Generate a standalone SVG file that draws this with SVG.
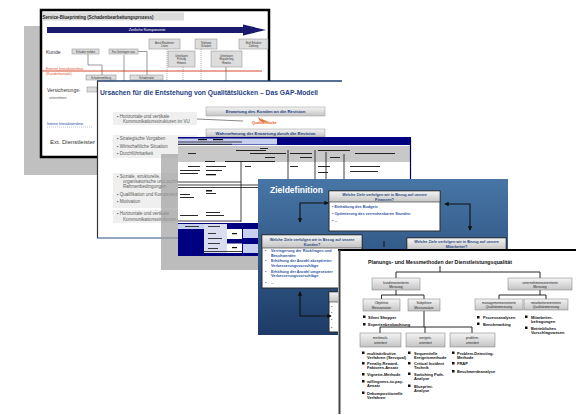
<svg xmlns="http://www.w3.org/2000/svg" width="576" height="415" viewBox="0 0 576 415">
<defs>
<linearGradient id="blue" x1="0" y1="0" x2="0" y2="1"><stop offset="0" stop-color="#4776a6"/><stop offset="1" stop-color="#1d3b66"/></linearGradient>
<linearGradient id="hdr" x1="0" y1="0" x2="0" y2="1"><stop offset="0" stop-color="#f4f4f4"/><stop offset="1" stop-color="#c4c4c4"/></linearGradient>
<marker id="ah" viewBox="0 0 6 6" refX="5" refY="3" markerWidth="4" markerHeight="4" orient="auto-start-reverse"><path d="M0,0 L6,3 L0,6 z" fill="#111"/></marker>
<marker id="sa" viewBox="0 0 6 6" refX="5" refY="3" markerWidth="5" markerHeight="5" orient="auto-start-reverse"><path d="M0,0 L6,3 L0,6 z" fill="#444"/></marker>
</defs>
<style>
text{font-family:"Liberation Sans",Arial,Helvetica,sans-serif}
.sb{fill:#ddd;stroke:#888;stroke-width:.5}
.st{font-size:2.6px;fill:#333;text-anchor:middle}
.cn{fill:none;stroke:#555;stroke-width:.6}
.dt{fill:none;stroke:#777;stroke-width:.6;stroke-dasharray:1 1}
.gb{fill:url(#hdr);stroke:#999;stroke-width:.5}
.gt{font-size:4.3px;font-weight:bold;fill:#1f3f7f;text-anchor:middle}
.bx{fill:#efefef}
.bt{font-size:4.5px;fill:#5a5a5a}
.tm{fill:#111}
.tl{stroke:#111;stroke-width:.8}
.zb{fill:#fff;stroke:#2a2a2a;stroke-width:1}
.zh{fill:url(#hdr);stroke:#2a2a2a;stroke-width:.6}
.zt{font-size:3.8px;font-weight:bold;fill:#2a4a80;text-anchor:middle}
.zl{font-size:3.8px;font-weight:bold;fill:#2f54a0}
.za{fill:none;stroke:#111;stroke-width:1.1;marker-start:url(#ah);marker-end:url(#ah)}
.pb{fill:url(#hdr);stroke:#777;stroke-width:.5}
.pt{font-size:3.3px;fill:#222;text-anchor:middle}
.pl{font-size:4px;font-weight:bold;fill:#111}
.tr{fill:none;stroke:#111;stroke-width:.9}
</style>

<!-- Slide 1: Service Blueprint -->
<g id="slide-blueprint">
<rect x="24" y="26" width="230" height="149" fill="#c0c0c0"/>
<rect x="41" y="10" width="228" height="147" fill="#fff" stroke="#000" stroke-width="2.5"/>
<rect x="42.5" y="12.5" width="141.5" height="8" fill="#dcdcdc"/>
<text x="42.5" y="18.5" font-size="5.5" font-weight="bold" fill="#222" textLength="111" lengthAdjust="spacingAndGlyphs">Service-Blueprinting (Schadenbearbeitungsprozess)</text>
<polygon points="47,27 243,27 243,24.5 266,30 243,35.5 243,33 47,33" fill="#1a1a6e"/>
<text x="147" y="31.4" font-size="3.8" fill="#fff" text-anchor="middle">Zeitliche Komponente</text>
<text x="46" y="53.5" font-size="5" fill="#333">Kunde</text>
<rect class="sb" x="72" y="49" width="27" height="5"/><text class="st" x="85.5" y="52.5">Schaden melden</text>
<rect class="sb" x="109" y="49" width="29" height="5"/><text class="st" x="123.5" y="52.5">Fax Unterlagen usw.</text>
<rect class="sb" x="149" y="39" width="31" height="10"/><text class="st" x="164.5" y="43.5">Anruf Mitarbeiter</text><text class="st" x="164.5" y="47">Listen</text>
<rect class="sb" x="195" y="39" width="22" height="10"/><text class="st" x="206" y="43.5">Telefonat</text><text class="st" x="206" y="47">Schaden</text>
<rect class="sb" x="239" y="39" width="29" height="10"/><text class="st" x="253.5" y="43.5">Brief Erhalten</text><text class="st" x="253.5" y="47">Zahlung</text>
<rect class="sb" x="168" y="51" width="27" height="16"/><text class="st" x="181.5" y="56.5">Unterlagen</text><text class="st" x="181.5" y="60">Prüfung</text><text class="st" x="181.5" y="63.5">Hinweis</text>
<rect class="sb" x="211" y="51" width="31" height="16"/><text class="st" x="226.5" y="56.5">Unterlagen</text><text class="st" x="226.5" y="60">Regulierung</text><text class="st" x="226.5" y="63.5">Hinweis</text>
<line x1="42" y1="71" x2="262" y2="71" stroke="#d5492a" stroke-width="1"/>
<text x="46" y="69.5" font-size="3.5" fill="#e05535">Externe Interaktionslinie</text>
<text x="46" y="74.5" font-size="3.5" fill="#e05535">(Kundenkontakt)</text>
<rect class="sb" x="86" y="75" width="30" height="5"/><text class="st" x="101" y="78.5">Schadenmeldung</text>
<rect class="sb" x="130" y="75" width="33" height="5"/><text class="st" x="146.5" y="78.5">Schadenakte</text>
<text x="47" y="92" font-size="5" fill="#333">Versicherungs-</text>
<text x="49" y="99" font-size="3" fill="#555">unternehmen</text>
<rect class="sb" x="87" y="87" width="10" height="5"/>
<text x="47" y="124.5" font-size="3.5" fill="#2040a0">Interne Interaktionslinie</text>
<line x1="47" y1="127" x2="92" y2="127" stroke="#6a80c0" stroke-width=".5" stroke-dasharray="1 1"/>
<text x="50" y="144" font-size="6" fill="#333">Ext. Dienstleister</text>
<polyline class="cn" points="88,54 88,65 102,65 102,75"/>
<line class="cn" x1="124" y1="55" x2="124" y2="81"/>
<polyline class="cn" points="138,51.5 147,51.5 147,75"/>
<line class="dt" x1="167" y1="49" x2="167" y2="81"/>
<line class="dt" x1="183" y1="67" x2="183" y2="81"/>
<line class="dt" x1="201" y1="49" x2="201" y2="81"/>
<line class="cn" x1="226" y1="67" x2="226" y2="81"/>
</g>

<!-- Slide 2: GAP model -->
<g id="slide-gap">
<rect x="97" y="81" width="245" height="157" fill="#fff"/>
<line x1="97" y1="81" x2="342" y2="81" stroke="#1f3f70" stroke-width="1.3"/>
<line x1="97.5" y1="81" x2="97.5" y2="238" stroke="#333" stroke-width="1.2"/>
<line x1="97" y1="238" x2="178" y2="238" stroke="#2a4f80" stroke-width="1"/>
<text x="100" y="95" font-size="7" font-weight="bold" fill="#1f3f7f" textLength="218" lengthAdjust="spacingAndGlyphs">Ursachen für die Entstehung von Qualitätslücken – Das GAP-Modell</text>
<rect class="gb" x="206" y="107" width="119" height="9"/>
<text class="gt" x="265.5" y="113">Erwartung des Kunden an die Revision</text>
<rect class="gb" x="206" y="129" width="119" height="8"/>
<text class="gt" x="265.5" y="134.7">Wahrnehmung der Erwartung durch die Revision</text>
<polygon points="258,117 262,120 261,118.5 266,121 264,119.5 269,123 263,121.5 264,123 259,120 260,121.5" fill="#e8702a"/>
<text x="252" y="123.5" font-size="3.6" font-weight="bold" fill="#e06020">Qualitätslücke</text>
<line x1="197" y1="119" x2="243" y2="121" stroke="#555" stroke-width=".7"/>
<rect class="bx" x="113" y="112" width="84" height="13"/>
<text class="bt" x="117" y="117.5">▪  Horizontale und vertikale</text>
<text class="bt" x="123" y="123">Kommunikationsstrukturen im VU</text>
<rect class="bx" x="113" y="135" width="84" height="23"/>
<text class="bt" x="117" y="140">▪  Strategische Vorgaben</text>
<text class="bt" x="117" y="147.5">▪  Wirtschaftliche Situation</text>
<text class="bt" x="117" y="155">▪  Durchführbarkeit</text>
<rect class="bx" x="113" y="173" width="84" height="35"/>
<text class="bt" x="117" y="178">▪  Soziale, strukturelle,</text>
<text class="bt" x="123" y="183">organisatorische und technische</text>
<text class="bt" x="123" y="188">Rahmenbedingungen</text>
<text class="bt" x="117" y="195.5">▪  Qualifikation und Kompetenz</text>
<text class="bt" x="117" y="203">▪  Motivation</text>
<rect class="bx" x="113" y="210" width="84" height="13"/>
<text class="bt" x="117" y="215">▪  Horizontale und vertikale</text>
<text class="bt" x="123" y="220.5">Kommunikationsstrukturen im VU</text>
</g>

<!-- Slide 3: table -->
<g id="slide-table">
<rect x="161" y="154" width="250" height="116" fill="#a0a0a0" opacity=".7"/>
<rect x="178" y="137" width="233" height="119" fill="#fff"/>
<rect x="178" y="137" width="233" height="8" fill="#000080"/>
<rect x="178" y="138.5" width="99" height="6" fill="#c8d0f0"/>
<rect class="tm" x="198" y="139" width="9" height="1.2"/>
<rect class="tm" x="213" y="139" width="10" height="1.2"/>
<line class="tl" x1="178" y1="142" x2="242" y2="142"/>
<line class="tl" x1="178" y1="144.3" x2="232" y2="144.3"/>
<rect x="178" y="146" width="233" height="16" fill="#c8c8c8"/>
<rect class="tm" x="188" y="153" width="8" height=".9"/>
<rect class="tm" x="236" y="150" width="30" height=".9"/>
<rect class="tm" x="260" y="148" width="8" height=".9"/>
<rect class="tm" x="250" y="153" width="36" height=".9"/>
<rect class="tm" x="265" y="157" width="10" height=".9"/>
<rect class="tm" x="290" y="153" width="22" height=".9"/>
<rect class="tm" x="300" y="157" width="12" height=".9"/>
<rect class="tm" x="318" y="150" width="32" height=".9"/>
<rect class="tm" x="330" y="157" width="10" height=".9"/>
<rect class="tm" x="355" y="153" width="40" height=".9"/>
<rect class="tm" x="205" y="161" width="10" height=".9"/>
<rect class="tm" x="225" y="161" width="50" height=".9"/>
<rect class="tm" x="188" y="166" width="12" height=".9"/>
<rect class="tm" x="206" y="166" width="20" height=".9"/>
<rect class="tm" x="245" y="166" width="6" height=".9"/>
<rect class="tm" x="290" y="166" width="8" height=".9"/>
<rect class="tm" x="318" y="166" width="12" height=".9"/>
<rect class="tm" x="350" y="166" width="30" height=".9"/>
<rect class="tm" x="180" y="170" width="20" height=".9"/>
<rect class="tm" x="180" y="173" width="18" height=".9"/>
<rect class="tm" x="206" y="170" width="16" height=".9"/>
<rect class="tm" x="206" y="174" width="10" height="1.3"/>
<rect class="tm" x="318" y="172" width="10" height=".9"/>
<rect class="tm" x="350" y="171" width="28" height=".9"/>
<line class="tl" x1="241" y1="162" x2="241" y2="222"/>
<line class="tl" x1="288" y1="150" x2="288" y2="179"/>
<line class="tl" x1="315" y1="150" x2="315" y2="179"/>
<line class="tl" x1="326" y1="152" x2="326" y2="179"/>
<line class="tl" x1="344" y1="154" x2="344" y2="179"/>
<line class="tl" x1="178" y1="182" x2="241" y2="182"/>
<line class="tl" x1="178" y1="185" x2="258" y2="185"/>
<line class="tl" x1="178" y1="187.5" x2="258" y2="187.5"/>
<rect class="tm" x="206" y="190" width="6" height="1.5"/>
<rect class="tm" x="180" y="194" width="10" height=".9"/>
<rect class="tm" x="180" y="197" width="14" height=".9"/>
<rect class="tm" x="206" y="193" width="10" height=".9"/>
<rect class="tm" x="206" y="212" width="14" height=".9"/>
<rect class="tm" x="180" y="215" width="18" height=".9"/>
<rect class="tm" x="206" y="215" width="18" height=".9"/>
<line class="tl" x1="178" y1="221" x2="241" y2="221"/>
<rect x="178" y="223" width="80" height="33" fill="#000080"/>
<rect x="178" y="224" width="49" height="5" fill="#c8d0f0"/>
<rect x="204" y="224" width="23" height="29" fill="#d8ddf0"/>
<rect x="227" y="229" width="15" height="24" fill="#fff"/>
<rect x="243" y="229" width="15" height="9" fill="#c8d0f0"/>
<rect x="243" y="244" width="15" height="9" fill="#c8d0f0"/>
<rect x="227" y="239" width="31" height="4.5" fill="#000080"/>
<rect class="tm" x="185" y="226" width="14" height=".8"/>
<rect class="tm" x="208" y="226" width="12" height=".8"/>
<rect class="tm" x="208" y="233" width="8" height=".8"/>
<rect class="tm" x="208" y="238" width="14" height=".8"/>
<rect class="tm" x="208" y="243" width="12" height=".8"/>
<rect class="tm" x="208" y="248" width="10" height=".8"/>
<rect class="tm" x="232" y="233" width="5" height="1.2"/>
<rect class="tm" x="232" y="247" width="5" height="1.2"/>
<line class="tl" x1="204" y1="251.5" x2="242" y2="251.5"/>
<line x1="410.5" y1="137" x2="410.5" y2="179" stroke="#000060" stroke-width="1.2"/>
</g>

<!-- Slide 4: Zieldefinition -->
<g id="slide-ziel">
<rect x="258" y="179" width="250" height="156" fill="url(#blue)"/>
<text x="270" y="193" font-size="8.5" font-weight="bold" fill="#fff">Zieldefinition</text>
</g>
<g id="box-finanzen">
<rect class="zb" x="329" y="191" width="111" height="40"/>
<rect class="zh" x="329" y="191" width="111" height="11"/>
<text class="zt" x="384.5" y="195.8">Welche Ziele verfolgen wir in Bezug auf unsere</text>
<text class="zt" x="384.5" y="200.6">Finanzen?</text>
<text class="zl" x="332" y="208">▪  Einhaltung des Budgets</text>
<text class="zl" x="332" y="215">▪  Optimierung des verrechenbaren Stunden</text>
<text class="zl" x="332" y="222">▪  ...</text>
</g>
<g id="box-kunden">
<rect class="zb" x="262" y="235" width="100" height="53"/>
<rect class="zh" x="262" y="235" width="100" height="13"/>
<text class="zt" x="312" y="240.5">Welche Ziele verfolgen wir in Bezug auf unsere</text>
<text class="zt" x="312" y="245.8">Kunden?</text>
<text class="zl" x="265" y="252">▪</text><text class="zl" x="271" y="252">Verringerung der Rückfragen und</text>
<text class="zl" x="271" y="256.5">Beschwerden</text>
<text class="zl" x="265" y="262">▪</text><text class="zl" x="271" y="262">Erhöhung der Anzahl akzeptierter</text>
<text class="zl" x="271" y="266.5">Verbesserungsvorschläge</text>
<text class="zl" x="265" y="272.5">▪</text><text class="zl" x="271" y="272.5">Erhöhung der Anzahl umgesetzter</text>
<text class="zl" x="271" y="277">Verbesserungsvorschläge</text>
<text class="zl" x="265" y="284">▪</text><text class="zl" x="271" y="284">...</text>
</g>
<g id="box-mitarbeiter">
<rect class="zb" x="407" y="238" width="99" height="30"/>
<rect class="zh" x="407" y="238" width="99" height="12"/>
<text class="zt" x="456.5" y="243">Welche Ziele verfolgen wir in Bezug auf unsere</text>
<text class="zt" x="456.5" y="248">Mitarbeiter?</text>
</g>
<g id="box-prozesse">
<rect class="zb" x="329" y="292" width="110" height="40"/>
<rect class="zh" x="329" y="292" width="110" height="10"/>
<text class="zl" x="331" y="308">▪</text>
<text class="zl" x="331" y="314">▪</text>
<text class="zl" x="331" y="321">▪</text>
<text class="zl" x="331" y="329">▪</text>
</g>
<g id="connectors-ziel">
<path class="za" d="M328,203 H300 V222"/>
<path class="za" d="M445,204 H470 V230"/>
<path class="za" d="M300,292 V316 H331"/>
<line x1="384" y1="241" x2="384" y2="247" stroke="#111" stroke-width="1"/>
</g>

<!-- Slide 5: Planungs- und Messmethoden -->
<g id="slide-methoden">
<rect x="338" y="250" width="238" height="165" fill="#fff"/>
<line x1="338" y1="250" x2="576" y2="250" stroke="#000" stroke-width="2"/>
<line x1="339.5" y1="250" x2="339.5" y2="414" stroke="#444" stroke-width="2"/>
<text x="368" y="264" font-size="5.5" font-weight="bold" fill="#111" textLength="144" lengthAdjust="spacingAndGlyphs">Planungs- und Messmethoden der Dienstleistungsqualität</text>
</g>
<g id="tree-lines">
<polyline class="tr" points="440,266 440,272"/>
<polyline class="tr" points="396,278 396,272 540,272 540,278"/>
<polyline class="tr" points="381.5,299 381.5,295 424,295 424,299"/>
<line class="tr" x1="396" y1="290" x2="396" y2="295"/>
<polyline class="tr" points="499,299 499,295 546,295 546,299"/>
<line class="tr" x1="540" y1="290" x2="540" y2="295"/>
<line class="tr" x1="424" y1="311" x2="424" y2="327"/>
<polyline class="tr" points="380,333 380,327 472,327 472,333"/>
<line class="tr" x1="425" y1="327" x2="425" y2="333"/>
</g>
<g id="node-kunden">
<rect class="pb" x="372" y="278" width="48" height="12"/>
<text class="pt" x="396" y="283.5">kundenorientierte</text><text class="pt" x="396" y="288">Messung</text>
</g>
<g id="node-unternehmen">
<rect class="pb" x="508" y="278" width="64" height="12"/>
<text class="pt" x="540" y="283.5">unternehmensorientierte</text><text class="pt" x="540" y="288">Messung</text>
</g>
<g id="node-objektiv">
<rect class="pb" x="363" y="299" width="37" height="12"/>
<text class="pt" x="381.5" y="304.2">Objektive</text><text class="pt" x="381.5" y="308.8">Messansätze</text>
<rect x="363" y="315.5" width="2.5" height="2.5" fill="#111"/><text class="pl" x="368" y="318.5">Silent Shopper</text>
<rect x="363" y="323" width="2.5" height="2.5" fill="#111"/><text class="pl" x="368" y="326">Expertenbeobachtung</text>
</g>
<g id="node-subjektiv">
<rect class="pb" x="408" y="299" width="32" height="12"/>
<text class="pt" x="424" y="304.2">Subjektive</text><text class="pt" x="424" y="308.8">Messansätze</text>
</g>
<g id="node-management">
<rect class="pb" x="475" y="299" width="48" height="11"/>
<text class="pt" x="499" y="303.8">managementorientierte</text><text class="pt" x="499" y="308">Qualitätsmessung</text>
<rect x="477" y="316" width="2.5" height="2.5" fill="#111"/><text class="pl" x="483" y="319">Prozessanalysen</text>
<rect x="477" y="322.5" width="2.5" height="2.5" fill="#111"/><text class="pl" x="483" y="325.5">Benchmarking</text>
</g>
<g id="node-mitarbeiter">
<rect class="pb" x="524" y="299" width="44" height="11"/>
<text class="pt" x="546" y="303.8">mitarbeiterorientierte</text><text class="pt" x="546" y="308">Qualitätsmessung</text>
<rect x="525" y="315.5" width="2.5" height="2.5" fill="#111"/><text class="pl" x="531" y="318.5">Mitarbeiter-</text><text class="pl" x="531" y="322.5">befragungen</text>
<rect x="525" y="326.5" width="2.5" height="2.5" fill="#111"/><text class="pl" x="531" y="329.5">Betriebliches</text><text class="pl" x="531" y="333.5">Vorschlagswesen</text>
</g>
<g id="node-merkmal">
<rect class="pb" x="360" y="333" width="41" height="14"/>
<text class="pt" x="380.5" y="338.5">merkmals-</text><text class="pt" x="380.5" y="343.5">orientiert</text>
<rect x="362" y="351.5" width="2.5" height="2.5" fill="#111"/><text class="pl" x="367" y="354.5">multiattributive</text><text class="pl" x="367" y="358.5">Verfahren (Servqual)</text>
<rect x="362" y="362" width="2.5" height="2.5" fill="#111"/><text class="pl" x="367" y="365">Penalty-Reward-</text><text class="pl" x="367" y="369">Faktoren-Ansatz</text>
<rect x="362" y="373" width="2.5" height="2.5" fill="#111"/><text class="pl" x="367" y="376">Vignette-Methode</text>
<rect x="362" y="380" width="2.5" height="2.5" fill="#111"/><text class="pl" x="367" y="383">willingness-to-pay-</text><text class="pl" x="367" y="387">Ansatz</text>
<rect x="362" y="391.5" width="2.5" height="2.5" fill="#111"/><text class="pl" x="367" y="394.5">Dekompositionelle</text><text class="pl" x="367" y="398.5">Verfahren</text>
</g>
<g id="node-ereignis">
<rect class="pb" x="406" y="333" width="39" height="14"/>
<text class="pt" x="425.5" y="338.5">ereignis-</text><text class="pt" x="425.5" y="343.5">orientiert</text>
<rect x="408" y="351.5" width="2.5" height="2.5" fill="#111"/><text class="pl" x="414" y="354.5">Sequentielle</text><text class="pl" x="414" y="358.5">Ereignismethode</text>
<rect x="408" y="362" width="2.5" height="2.5" fill="#111"/><text class="pl" x="414" y="365">Critical Incident</text><text class="pl" x="414" y="369">Technik</text>
<rect x="408" y="372.5" width="2.5" height="2.5" fill="#111"/><text class="pl" x="414" y="375.5">Switching Path-</text><text class="pl" x="414" y="379.5">Analyse</text>
<rect x="408" y="384.5" width="2.5" height="2.5" fill="#111"/><text class="pl" x="414" y="387.5">Blueprint-</text><text class="pl" x="414" y="391.5">Analyse</text>
</g>
<g id="node-problem">
<rect class="pb" x="450" y="333" width="45" height="14"/>
<text class="pt" x="472.5" y="338.5">problem-</text><text class="pt" x="472.5" y="343.5">orientiert</text>
<rect x="452" y="351.5" width="2.5" height="2.5" fill="#111"/><text class="pl" x="457" y="354.5">Problem-Detecting-</text><text class="pl" x="457" y="358.5">Methode</text>
<rect x="452" y="362" width="2.5" height="2.5" fill="#111"/><text class="pl" x="457" y="365">FRAP</text>
<rect x="452" y="370" width="2.5" height="2.5" fill="#111"/><text class="pl" x="457" y="373">Beschwerdeanalyse</text>
</g>
</svg>
